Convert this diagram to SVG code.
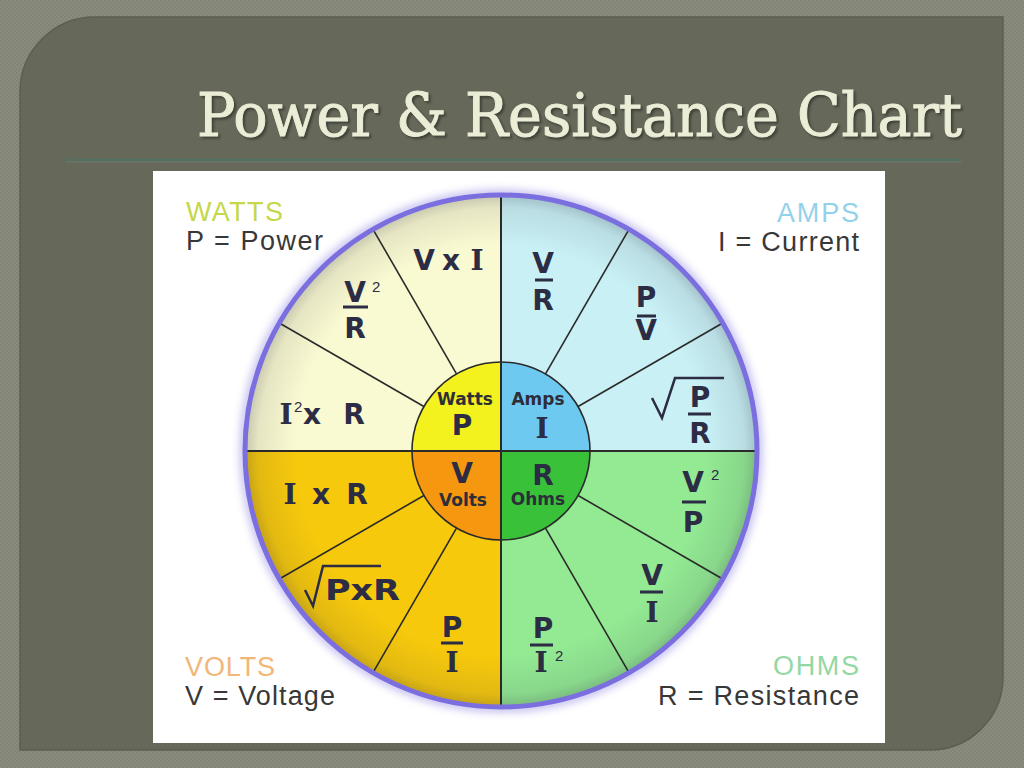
<svg xmlns="http://www.w3.org/2000/svg" width="1024" height="768" viewBox="0 0 1024 768">
  <defs>
    <pattern id="tex" width="4" height="4" patternUnits="userSpaceOnUse">
      <rect width="4" height="4" fill="#8a8d7e"/>
      <rect width="2" height="2" fill="#808375"/>
      <rect x="2" y="2" width="2" height="2" fill="#818476"/>
    </pattern>
    <radialGradient id="rim" cx="501" cy="451" r="256" gradientUnits="userSpaceOnUse">
      <stop offset="0.80" stop-color="#2a2a40" stop-opacity="0"/>
      <stop offset="0.95" stop-color="#2a2a40" stop-opacity="0.10"/>
      <stop offset="1" stop-color="#2a2a40" stop-opacity="0.25"/>
    </radialGradient>
    <filter id="glow" x="-20%" y="-20%" width="140%" height="140%">
      <feGaussianBlur stdDeviation="4"/>
    </filter>
    <filter id="tshadow" x="-5%" y="-20%" width="110%" height="150%">
      <feGaussianBlur stdDeviation="1.2"/>
    </filter>
    <style>
      .f { font-family: "DejaVu Sans", Verdana, sans-serif; font-weight: bold; font-size: 28px; fill: #2c2c44; text-anchor: middle; }
      .fi { font-family: "DejaVu Serif", serif; font-weight: bold; font-size: 28px; fill: #2c2c44; text-anchor: middle; }
      .sup { font-family: "Liberation Sans", Arial, sans-serif; font-size: 15px; fill: #2c2c44; }
      .cw { font-family: "DejaVu Sans", Verdana, sans-serif; font-weight: bold; font-size: 17px; fill: #2e2e38; text-anchor: middle; }
      .bar { fill: #2c2c44; }
      .rad { fill: none; stroke: #2c2c44; stroke-width: 2.5; stroke-linejoin: miter; }
      .lbl { font-family: "Liberation Sans", Arial, sans-serif; font-size: 27px; }
      .dark { fill: #383838; }
      .div { stroke: #2a2a2a; stroke-width: 1.6; fill: none; }
      .axis { stroke: #2a2a2a; stroke-width: 2; fill: none; }
      .ttl { font-family: "DejaVu Serif", serif; font-size: 59px; }
    </style>
  </defs>

  <!-- background -->
  <rect width="1024" height="768" fill="url(#tex)"/>
  <g id="panel">
    <path d="M20,92 A75,75 0 0 1 95,17 L1003,17 L1003,677 A73,73 0 0 1 930,750 L20,750 Z" fill="#66685a" stroke="#5c5e51" stroke-width="1.5"/>
  </g>

  <g id="title">
    <text class="ttl" x="199" y="138" fill="#2f3129" stroke="#2f3129" stroke-width="1" opacity="0.7" textLength="765" lengthAdjust="spacingAndGlyphs" filter="url(#tshadow)">Power &amp; Resistance Chart</text>
    <text class="ttl" x="197" y="136" fill="#ecedd6" stroke="#ecedd6" stroke-width="1" textLength="765" lengthAdjust="spacingAndGlyphs">Power &amp; Resistance Chart</text>
    <line x1="66" y1="160" x2="962" y2="160" stroke="#546f60" stroke-width="3"/>
    <line x1="66" y1="162" x2="962" y2="162" stroke="#7a8a7c" stroke-width="1" opacity="0.5"/>
  </g>

  <g id="image">
    <rect x="153" y="171" width="732" height="572" fill="#ffffff"/>
  </g>

  <!-- outer glow -->
  <circle cx="501" cy="451" r="257" fill="none" stroke="#7b70dc" stroke-width="8" opacity="0.5" filter="url(#glow)"/>

  <g id="watts-quadrant">
    <path d="M501,451 L245,451 A256,256 0 0 1 501,195 Z" fill="#fafad2"/>
  </g>
  <g id="amps-quadrant">
    <path d="M501,451 L501,195 A256,256 0 0 1 757,451 Z" fill="#c9f1f5"/>
  </g>
  <g id="ohms-quadrant">
    <path d="M501,451 L757,451 A256,256 0 0 1 501,707 Z" fill="#93ea93"/>
  </g>
  <g id="volts-quadrant">
    <path d="M501,451 L501,707 A256,256 0 0 1 245,451 Z" fill="#f7c90c"/>
  </g>
  <circle cx="501" cy="451" r="256" fill="url(#rim)"/>

  <g id="center-watts">
    <path d="M501,451 L412,451 A89,89 0 0 1 501,362 Z" fill="#f4f21e"/>
  </g>
  <g id="center-amps">
    <path d="M501,451 L501,362 A89,89 0 0 1 590,451 Z" fill="#6ec9f1"/>
  </g>
  <g id="center-ohms">
    <path d="M501,451 L590,451 A89,89 0 0 1 501,540 Z" fill="#3ac13a"/>
  </g>
  <g id="center-volts">
    <path d="M501,451 L501,540 A89,89 0 0 1 412,451 Z" fill="#f5970f"/>
  </g>

  <g id="connectors">
    <line class="div" x1="423.9" y1="406.5" x2="279.3" y2="323"/>
    <line class="div" x1="456.5" y1="373.9" x2="373" y2="229.3"/>
    <line class="div" x1="545.5" y1="373.9" x2="629" y2="229.3"/>
    <line class="div" x1="578.1" y1="406.5" x2="722.7" y2="323"/>
    <line class="div" x1="578.1" y1="495.5" x2="722.7" y2="579"/>
    <line class="div" x1="545.5" y1="528.1" x2="629" y2="672.7"/>
    <line class="div" x1="456.5" y1="528.1" x2="373" y2="672.7"/>
    <line class="div" x1="423.9" y1="495.5" x2="279.3" y2="579"/>
    <line class="axis" x1="245" y1="451" x2="757" y2="451"/>
    <line class="axis" x1="501" y1="195" x2="501" y2="707"/>
    <circle cx="501" cy="451" r="89" class="div"/>
    <circle cx="501" cy="451" r="256" fill="none" stroke="#7b6fe0" stroke-width="5"/>
  </g>

  <!-- corner labels -->
  <g id="label-watts">
    <text class="lbl" x="186" y="221" fill="#c5d84a" textLength="97">WATTS</text>
    <text class="lbl dark" x="186" y="250" textLength="137">P = Power</text>
  </g>
  <g id="label-amps">
    <text class="lbl" x="777" y="222" fill="#92d2ea" textLength="82">AMPS</text>
    <text class="lbl dark" x="718" y="251" textLength="141">I = Current</text>
  </g>
  <g id="label-volts">
    <text class="lbl" x="185" y="676" fill="#f2b677" textLength="90">VOLTS</text>
    <text class="lbl dark" x="185" y="705" textLength="150">V = Voltage</text>
  </g>
  <g id="label-ohms">
    <text class="lbl" x="773" y="675" fill="#93d8a3" textLength="86">OHMS</text>
    <text class="lbl dark" x="658" y="705" textLength="201">R = Resistance</text>
  </g>

  <!-- watts formulas -->
  <g id="f-VxI">
    <text class="f" x="424" y="270">V</text>
    <text class="f" x="451" y="270">x</text>
    <text class="fi" x="477" y="270">I</text>
  </g>
  <g id="f-V2R">
    <text class="f" x="355" y="302">V</text>
    <text class="sup" x="372" y="292">2</text>
    <rect class="bar" x="343" y="305.5" width="25" height="3"/>
    <text class="f" x="355" y="338">R</text>
  </g>
  <g id="f-I2xR">
    <text class="fi" x="286" y="424">I</text>
    <text class="sup" x="294" y="412">2</text>
    <text class="f" x="312" y="424">x</text>
    <text class="f" x="354" y="424">R</text>
  </g>

  <!-- amps formulas -->
  <g id="f-VR">
    <text class="f" x="543" y="273">V</text>
    <rect class="bar" x="535" y="278.5" width="18" height="3"/>
    <text class="f" x="543" y="310">R</text>
  </g>
  <g id="f-PV">
    <text class="f" x="646" y="307">P</text>
    <rect class="bar" x="637" y="314.5" width="19" height="3"/>
    <text class="f" x="646" y="340">V</text>
  </g>
  <g id="f-sqrtPR">
    <polyline class="rad" points="652,398 662,418 675,378 724,378"/>
    <text class="f" x="700" y="407" font-size="26">P</text>
    <rect class="bar" x="688" y="412.5" width="23" height="3"/>
    <text class="f" x="700" y="443" font-size="26">R</text>
  </g>

  <!-- ohms formulas -->
  <g id="f-V2P">
    <text class="f" x="693" y="492">V</text>
    <text class="sup" x="711" y="480">2</text>
    <rect class="bar" x="682" y="500.5" width="24" height="3"/>
    <text class="f" x="693" y="532">P</text>
  </g>
  <g id="f-VI">
    <text class="f" x="652" y="585">V</text>
    <rect class="bar" x="640" y="590.5" width="23" height="3"/>
    <text class="fi" x="652" y="622">I</text>
  </g>
  <g id="f-PI2">
    <text class="f" x="543" y="638">P</text>
    <rect class="bar" x="530" y="643.5" width="23" height="3"/>
    <text class="fi" x="541" y="672">I</text>
    <text class="sup" x="555" y="661">2</text>
  </g>

  <!-- volts formulas -->
  <g id="f-IxR">
    <text class="fi" x="290" y="504">I</text>
    <text class="f" x="321" y="504">x</text>
    <text class="f" x="357" y="504">R</text>
  </g>
  <g id="f-sqrtPxR">
    <polyline class="rad" points="305,590 313,606 323,566 381,566"/>
    <text class="f" x="325" y="600" style="text-anchor:start" textLength="75" lengthAdjust="spacingAndGlyphs">PxR</text>
  </g>
  <g id="f-PI">
    <text class="f" x="452" y="637">P</text>
    <rect class="bar" x="441" y="641.5" width="22" height="3"/>
    <text class="fi" x="452" y="672">I</text>
  </g>

  <!-- center labels -->
  <g id="c-watts">
    <text class="cw" x="465" y="405">Watts</text>
    <text class="f" x="462" y="435">P</text>
  </g>
  <g id="c-amps">
    <text class="cw" x="538" y="405">Amps</text>
    <text class="fi" x="542" y="438">I</text>
  </g>
  <g id="c-volts">
    <text class="f" x="462" y="483">V</text>
    <text class="cw" x="463" y="506">Volts</text>
  </g>
  <g id="c-ohms">
    <text class="f" x="543" y="485">R</text>
    <text class="cw" x="538" y="505">Ohms</text>
  </g>
</svg>
